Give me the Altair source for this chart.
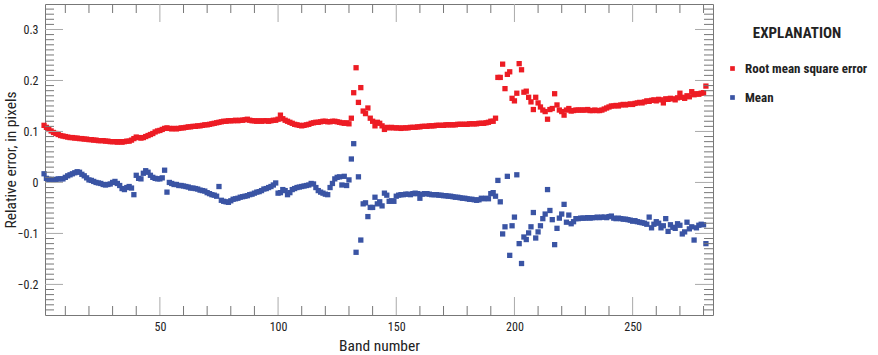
import altair as alt
import pandas as pd

bands = list(range(1, 282))

rmse = [
    0.112, 0.108, 0.104, 0.101, 0.098, 0.096, 0.094, 0.092, 0.091, 0.090,
    0.089, 0.088, 0.088, 0.087, 0.087, 0.086, 0.086, 0.085, 0.085, 0.084,
    0.084, 0.083, 0.083, 0.082, 0.082, 0.082, 0.081, 0.081, 0.080, 0.080,
    0.080, 0.079, 0.080, 0.079, 0.080, 0.081, 0.081, 0.083, 0.086, 0.089,
    0.088, 0.087, 0.088, 0.090, 0.092, 0.094, 0.096, 0.099, 0.101, 0.102,
    0.104, 0.106, 0.107, 0.106, 0.105, 0.106, 0.105, 0.106, 0.107, 0.107,
    0.108, 0.109, 0.109, 0.110, 0.110, 0.111, 0.111, 0.112, 0.113, 0.113,
    0.114, 0.115, 0.116, 0.117, 0.118, 0.119, 0.120, 0.120, 0.121, 0.121,
    0.121, 0.122, 0.121, 0.122, 0.122, 0.123, 0.124, 0.122, 0.121, 0.121,
    0.120, 0.121, 0.120, 0.121, 0.121, 0.120, 0.121, 0.122, 0.122, 0.124,
    0.132, 0.125, 0.122, 0.120, 0.118, 0.116, 0.114, 0.113, 0.112, 0.111,
    0.112, 0.113, 0.114, 0.116, 0.117, 0.118, 0.118, 0.119, 0.120, 0.120,
    0.119, 0.119, 0.120, 0.120, 0.119, 0.118, 0.117, 0.116, 0.117, 0.115,
    0.126, 0.176, 0.225, 0.157, 0.186, 0.140, 0.135, 0.146, 0.126, 0.120,
    0.111, 0.118, 0.116, 0.111, 0.104, 0.108, 0.107, 0.108, 0.107, 0.107,
    0.107, 0.106, 0.107, 0.107, 0.107, 0.108, 0.108, 0.108, 0.109, 0.109,
    0.110, 0.110, 0.110, 0.111, 0.111, 0.111, 0.112, 0.112, 0.112, 0.112,
    0.113, 0.113, 0.113, 0.113, 0.113, 0.114, 0.114, 0.114, 0.114, 0.114,
    0.115, 0.115, 0.115, 0.115, 0.116, 0.116, 0.116, 0.117, 0.118, 0.120,
    0.120, 0.126, 0.206, 0.206, 0.232, 0.184, 0.212, 0.217, 0.165, 0.160,
    0.175, 0.233, 0.221, 0.177, 0.179, 0.167, 0.158, 0.143, 0.167, 0.156,
    0.148, 0.142, 0.139, 0.124, 0.143, 0.145, 0.174, 0.152, 0.142, 0.139,
    0.132, 0.142, 0.145, 0.140, 0.141, 0.142, 0.142, 0.142, 0.142, 0.142,
    0.143, 0.141, 0.141, 0.142, 0.141, 0.141, 0.142, 0.144, 0.146, 0.148,
    0.150, 0.150, 0.151, 0.150, 0.152, 0.153, 0.152, 0.153, 0.154, 0.153,
    0.155, 0.156, 0.157, 0.156, 0.158, 0.160, 0.159, 0.161, 0.162, 0.160,
    0.163, 0.162, 0.156, 0.164, 0.163, 0.165, 0.164, 0.162, 0.166, 0.175,
    0.167, 0.165, 0.170, 0.168, 0.178, 0.172, 0.174, 0.173, 0.175, 0.176,
    0.189,
]

mean = [
    0.017, 0.008, 0.006, 0.006, 0.005, 0.006, 0.007, 0.007, 0.007, 0.010,
    0.013, 0.015, 0.017, 0.019, 0.021, 0.020, 0.016, 0.013, 0.009, 0.005,
    0.004, 0.002, 0.000, -0.001, -0.002, -0.004, -0.005, -0.004, -0.003, 0.000,
    0.002, -0.002, -0.006, -0.012, -0.014, -0.010, -0.008, -0.011, -0.024, 0.014,
    0.008, 0.007, 0.018, 0.023, 0.020, 0.014, 0.010, 0.008, 0.007, 0.007,
    0.009, 0.024, -0.019, 0.000, -0.002, -0.004, -0.004, -0.006, -0.006, -0.007,
    -0.008, -0.009, -0.011, -0.011, -0.012, -0.013, -0.015, -0.016, -0.017, -0.020,
    -0.022, -0.024, -0.025, -0.027, -0.008, -0.035, -0.037, -0.038, -0.039, -0.036,
    -0.033, -0.032, -0.031, -0.029, -0.028, -0.027, -0.026, -0.024, -0.023, -0.021,
    -0.019, -0.018, -0.016, -0.013, -0.012, -0.010, -0.008, -0.005, -0.001, -0.021,
    -0.020, -0.014, -0.016, -0.024, -0.020, -0.014, -0.012, -0.010, -0.009, -0.008,
    -0.007, -0.006, -0.005, -0.002, -0.003, -0.010, -0.016, -0.019, -0.021, -0.023,
    -0.024, -0.010, -0.002, 0.007, 0.010, 0.011, -0.005, 0.012, -0.006, 0.005,
    0.046, 0.076, -0.137, 0.011, -0.113, -0.042, -0.040, -0.067, -0.049, -0.049,
    -0.029, -0.042, -0.038, -0.046, -0.021, -0.025, -0.037, -0.036, -0.037, -0.027,
    -0.025, -0.024, -0.024, -0.023, -0.023, -0.024, -0.022, -0.021, -0.022, -0.031,
    -0.023, -0.022, -0.022, -0.023, -0.024, -0.024, -0.024, -0.025, -0.025, -0.026,
    -0.026, -0.027, -0.027, -0.028, -0.029, -0.029, -0.030, -0.031, -0.031, -0.032,
    -0.033, -0.033, -0.034, -0.035, -0.034, -0.031, -0.032, -0.031, -0.032, -0.022,
    -0.020, -0.027, 0.004, -0.038, -0.101, -0.087, 0.012, -0.143, -0.085, -0.068,
    0.015, -0.120, -0.159, -0.107, -0.112, -0.099, -0.087, -0.059, -0.109, -0.097,
    -0.085, -0.071, -0.062, -0.014, -0.055, -0.073, -0.122, -0.090, -0.070, -0.062,
    -0.043, -0.078, -0.064, -0.081, -0.077, -0.071, -0.071, -0.070, -0.070, -0.070,
    -0.069, -0.070, -0.069, -0.069, -0.068, -0.069, -0.068, -0.068, -0.069, -0.067,
    -0.066, -0.070, -0.071, -0.070, -0.071, -0.072, -0.072, -0.073, -0.074, -0.076,
    -0.075, -0.077, -0.078, -0.079, -0.080, -0.082, -0.068, -0.089, -0.082, -0.077,
    -0.080, -0.089, -0.085, -0.071, -0.096, -0.083, -0.088, -0.090, -0.081, -0.084,
    -0.101, -0.097, -0.078, -0.091, -0.087, -0.113, -0.089, -0.084, -0.082, -0.083,
    -0.120,
]

series_names = ["Root mean square error", "Mean"]
series_colors = ["#ED1C24", "#3A54A4"]

x_major = [50, 100, 150, 200, 250]
y_major = [-0.2, -0.1, 0, 0.1, 0.2, 0.3]
x_minor = [10, 20, 30, 40, 60, 70, 80, 90, 110, 120, 130, 140, 160, 170, 180, 190,
           210, 220, 230, 240, 260, 270, 280]
y_minor = [-0.25, -0.24, -0.23, -0.22, -0.21, -0.19, -0.18, -0.17, -0.16, -0.15,
           -0.14, -0.13, -0.12, -0.11, -0.09, -0.08, -0.07, -0.06, -0.05, -0.04,
           -0.03, -0.02, -0.01, 0.01, 0.02, 0.03, 0.04, 0.05, 0.06, 0.07, 0.08,
           0.09, 0.11, 0.12, 0.13, 0.14, 0.15, 0.16, 0.17, 0.18, 0.19, 0.21, 0.22,
           0.23, 0.24, 0.25, 0.26, 0.27, 0.28, 0.29, 0.31, 0.32, 0.33, 0.34]

df = pd.DataFrame({
    "band": bands + bands,
    "value": rmse + mean,
    "series": [series_names[0]] * len(bands) + [series_names[1]] * len(bands),
})

W, H = 668, 311
FONT = "Liberation Sans Narrow, Roboto Condensed, DejaVu Sans Condensed, Roboto, sans-serif"
xs = alt.Scale(domain=[1.4, 284], nice=False, zero=False)
ys = alt.Scale(domain=[-0.26, 0.35], nice=False, zero=False)

x_axis = alt.Axis(values=x_major, format="d", title="Band number", ticks=False,
                  domain=False, grid=False, labelPadding=6, titlePadding=6)
y_axis = alt.Axis(values=y_major, format=".1~f", title="Relative error, in pixels",
                  ticks=False, domain=False, grid=False, labelPadding=7,
                  titleX=-27, titleY=H / 2)

points = alt.Chart(df).mark_square(size=28, opacity=1).encode(
    x=alt.X("band:Q", scale=xs, axis=x_axis),
    y=alt.Y("value:Q", scale=ys, axis=y_axis),
    color=alt.Color("series:N",
                    scale=alt.Scale(domain=series_names, range=series_colors),
                    legend=alt.Legend(
                        title="EXPLANATION", orient="none", legendX=681, legendY=22,
                        symbolType="square", symbolSize=22, padding=0,
                        titleFont=FONT, titleFontSize=15, titleFontWeight="bold",
                        titleColor="#222", titleAnchor="middle", titlePadding=21,
                        labelFont=FONT, labelFontSize=13, labelFontWeight="bold",
                        labelColor="#222", labelOffset=6, rowPadding=15,
                        labelLimit=300)),
    order=alt.Order("series:N"),
)

ymin = pd.DataFrame({"v": y_minor})
ymaj = pd.DataFrame({"v": y_major})
xmin = pd.DataFrame({"v": x_minor})
xmaj = pd.DataFrame({"v": x_major})

def yticks(data, x0, x1, color):
    return alt.Chart(data).mark_rule(color=color, strokeWidth=1).encode(
        y=alt.Y("v:Q", scale=ys, axis=y_axis), x=alt.value(x0), x2=alt.value(x1))

def xticks(data, y0, y1, color):
    return alt.Chart(data).mark_rule(color=color, strokeWidth=1).encode(
        x=alt.X("v:Q", scale=xs, axis=x_axis), y=alt.value(y0), y2=alt.value(y1))

minor_c = "#777777"
major_c = "#AAAAAA"
ticks = [
    yticks(ymin, 0, 9, minor_c), yticks(ymin, W - 9, W, minor_c),
    yticks(ymaj, 0, 18, major_c), yticks(ymaj, W - 18, W, major_c),
    xticks(xmin, H - 9, H, minor_c), xticks(xmin, 0, 9, minor_c),
    xticks(xmaj, H - 18, H, major_c), xticks(xmaj, 0, 18, major_c),
]

chart = alt.layer(points, *ticks).properties(
    width=W, height=H,
    padding={"left": 45, "top": 4, "right": 165, "bottom": 40},
    autosize=alt.AutoSizeParams(type="none"),
).configure_view(stroke="#777777", strokeWidth=1).configure_axis(
    labelFont=FONT, labelFontSize=12, labelColor="#222",
    titleFont=FONT, titleFontSize=15.5, titleColor="#222", titleFontWeight="normal",
)

chart.save("out.html", embed_options={"renderer": "svg", "actions": False})
